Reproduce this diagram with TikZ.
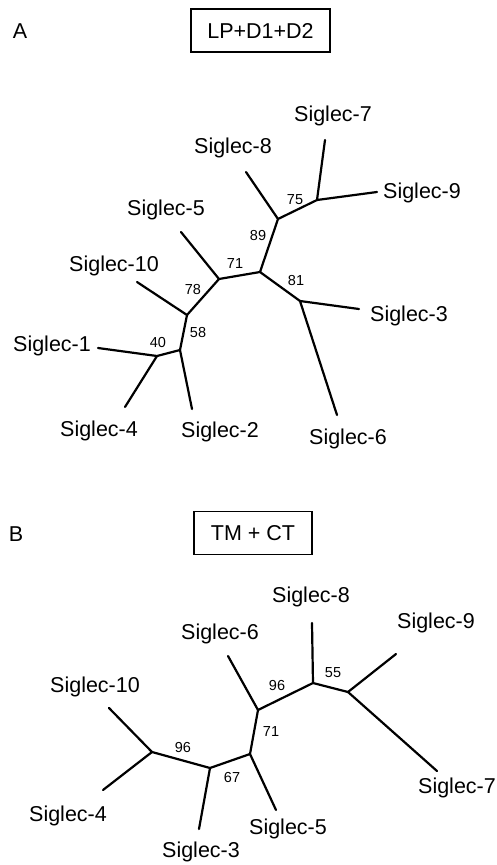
\documentclass[tikz,border=0pt]{standalone}
\usepackage{fontspec}
\setmainfont{Liberation Sans}
\begin{document}
\begin{tikzpicture}[x=1pt,y=-1pt,
  branch/.style={line width=2.2pt, line cap=round, line join=round},
  taxon/.style={font=\fontsize{21.5}{24}\selectfont, inner sep=0pt},
  support/.style={font=\fontsize{14.5}{16}\selectfont, inner sep=0pt},
  panel/.style={font=\fontsize{21.5}{24}\selectfont, inner sep=0pt},
  titlebox/.style={draw, line width=1.2pt, font=\fontsize{21.5}{24}\selectfont,
    inner sep=0pt, minimum height=43pt}]
\useasboundingbox (0,0) rectangle (497,865);

% ---------------- Panel A: LP+D1+D2 ----------------
\node[panel] (pA) at (20,31) {A};
\node[titlebox, minimum width=139pt] (tA) at (260.5,30.5) {LP+D1+D2};

% internal nodes
\coordinate (a75) at (317,200);
\coordinate (a89) at (278,219);
\coordinate (ac)  at (260,272);
\coordinate (a71) at (219,279);
\coordinate (a81) at (300,301);
\coordinate (a78) at (187,315);
\coordinate (a58) at (180,350);
\coordinate (a40) at (157,356);
% leaf tips
\coordinate (a7)  at (325,140);
\coordinate (a9)  at (377,192);
\coordinate (a8)  at (246,172);
\coordinate (a5)  at (181,232);
\coordinate (a3)  at (359,309);
\coordinate (a6)  at (337,415);
\coordinate (a10) at (137,282);
\coordinate (a1)  at (98,348);
\coordinate (a4)  at (125,407);
\coordinate (a2)  at (192,409);

\draw[branch] (a7) -- (a75) -- (a9);
\draw[branch] (a75) -- (a89) -- (a8);
\draw[branch] (a89) -- (ac) -- (a81);
\draw[branch] (a3) -- (a81) -- (a6);
\draw[branch] (ac) -- (a71) -- (a5);
\draw[branch] (a71) -- (a78) -- (a10);
\draw[branch] (a78) -- (a58) -- (a2);
\draw[branch] (a58) -- (a40) -- (a1);
\draw[branch] (a40) -- (a4);

\node[taxon] (lA7)  at (333,116) {Siglec-7};
\node[taxon] (lA9)  at (422,193) {Siglec-9};
\node[taxon] (lA8)  at (233,148) {Siglec-8};
\node[taxon] (lA5)  at (166,210) {Siglec-5};
\node[taxon] (lA3)  at (409,316) {Siglec-3};
\node[taxon] (lA6)  at (348,439) {Siglec-6};
\node[taxon] (lA10) at (114,266) {Siglec-10};
\node[taxon] (lA1)  at (52,346)  {Siglec-1};
\node[taxon] (lA4)  at (99,431)  {Siglec-4};
\node[taxon] (lA2)  at (220,432) {Siglec-2};

\node[support] (sA75) at (295,200) {75};
\node[support] (sA89) at (258,236) {89};
\node[support] (sA71) at (235,264) {71};
\node[support] (sA81) at (296,281) {81};
\node[support] (sA78) at (193,290) {78};
\node[support] (sA58) at (198,333) {58};
\node[support] (sA40) at (158,343) {40};

% ---------------- Panel B: TM + CT ----------------
\node[panel] (pB) at (16,534) {B};
\node[titlebox, minimum width=118pt] (tB) at (253,533) {TM + CT};

% internal nodes
\coordinate (b55a) at (313,683);
\coordinate (b55b) at (348,692);
\coordinate (b96b) at (258,710);
\coordinate (b71)  at (250,754);
\coordinate (b67)  at (210,768);
\coordinate (b96a) at (152,752);
% leaf tips
\coordinate (b8)  at (312,623);
\coordinate (b9)  at (396,654);
\coordinate (b7)  at (437,771);
\coordinate (b6)  at (228,656);
\coordinate (b5)  at (276,810);
\coordinate (b3)  at (199,829);
\coordinate (b10) at (109,708);
\coordinate (b4)  at (103,790);

\draw[branch] (b8) -- (b55a) -- (b55b);
\draw[branch] (b9) -- (b55b) -- (b7);
\draw[branch] (b55a) -- (b96b) -- (b6);
\draw[branch] (b96b) -- (b71) -- (b5);
\draw[branch] (b71) -- (b67) -- (b3);
\draw[branch] (b67) -- (b96a) -- (b10);
\draw[branch] (b96a) -- (b4);

\node[taxon] (lB8)  at (311,597) {Siglec-8};
\node[taxon] (lB9)  at (436,623) {Siglec-9};
\node[taxon] (lB6)  at (220,634) {Siglec-6};
\node[taxon] (lB7)  at (457,788) {Siglec-7};
\node[taxon] (lB5)  at (288,829) {Siglec-5};
\node[taxon] (lB3)  at (201,852) {Siglec-3};
\node[taxon] (lB10) at (95,687)  {Siglec-10};
\node[taxon] (lB4)  at (68,816)  {Siglec-4};

\node[support] (sB55) at (333,673) {55};
\node[support] (sB96b) at (277,685) {96};
\node[support] (sB71) at (271,732) {71};
\node[support] (sB67) at (232,777) {67};
\node[support] (sB96a) at (183,747) {96};
\end{tikzpicture}
\end{document}
